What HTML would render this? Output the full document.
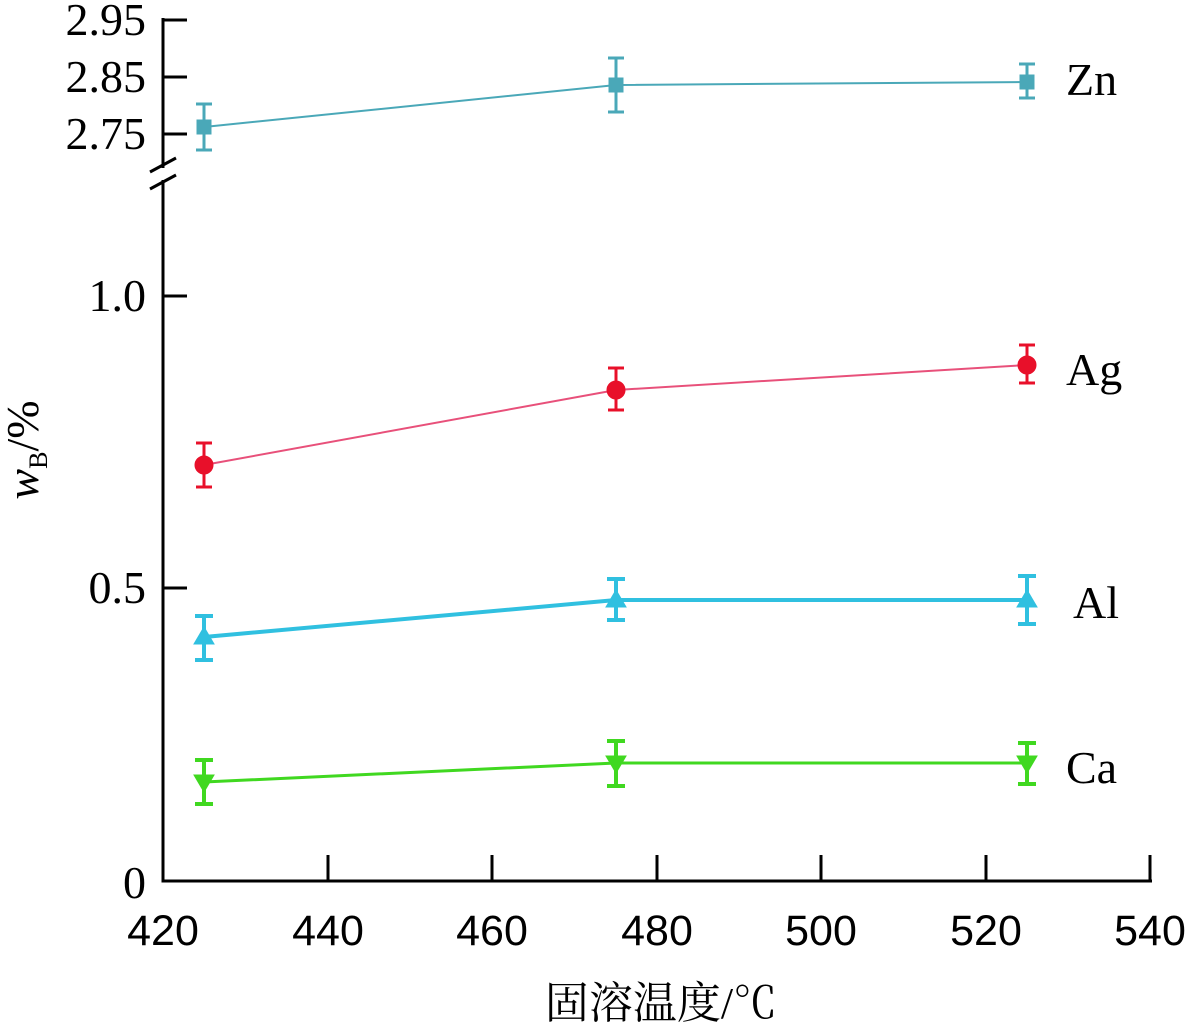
<!DOCTYPE html>
<html><head><meta charset="utf-8"><style>
html,body{margin:0;padding:0;background:#fff;}
svg{display:block;}
</style></head><body>
<svg width="1185" height="1026" xmlns="http://www.w3.org/2000/svg">
<g stroke="#000" stroke-width="3" fill="none">
  <line x1="163" y1="18" x2="163" y2="168"/>
  <line x1="163" y1="180" x2="163" y2="882"/>
  <line x1="150" y1="172" x2="176" y2="158"/>
  <line x1="150" y1="189" x2="176" y2="175"/>
  <line x1="161.5" y1="881" x2="1152" y2="881"/>
  <line x1="163" y1="20" x2="187" y2="20"/>
  <line x1="163" y1="77" x2="187" y2="77"/>
  <line x1="163" y1="134" x2="187" y2="134"/>
  <line x1="163" y1="296" x2="187" y2="296"/>
  <line x1="163" y1="588" x2="187" y2="588"/>
  <line x1="328" y1="855" x2="328" y2="881"/>
  <line x1="492" y1="855" x2="492" y2="881"/>
  <line x1="657" y1="855" x2="657" y2="881"/>
  <line x1="821" y1="855" x2="821" y2="881"/>
  <line x1="986" y1="855" x2="986" y2="881"/>
  <line x1="1150" y1="855" x2="1150" y2="881"/>
</g>
<g font-family="Liberation Serif, serif" font-size="46" text-anchor="end" fill="#000">
  <text x="146" y="35">2.95</text>
  <text x="146" y="92">2.85</text>
  <text x="146" y="149">2.75</text>
  <text x="146" y="311">1.0</text>
  <text x="146" y="603">0.5</text>
  <text x="146" y="898">0</text>
</g>
<g font-family="Liberation Sans, sans-serif" font-size="43" text-anchor="middle" fill="#000">
  <text x="163" y="945">420</text>
  <text x="328" y="945">440</text>
  <text x="492" y="945">460</text>
  <text x="657" y="945">480</text>
  <text x="821" y="945">500</text>
  <text x="986" y="945">520</text>
  <text x="1150" y="945">540</text>
</g>
<text x="661" y="1018" font-family="Liberation Serif, 'Noto Serif CJK SC', serif" font-size="44" text-anchor="middle">固溶温度/℃</text>
<text transform="translate(38,450) rotate(-90)" font-family="Liberation Serif, serif" font-size="46" text-anchor="middle"><tspan font-style="italic">w</tspan><tspan font-size="26" dy="9">B</tspan><tspan dy="-9">/%</tspan></text>
<g font-family="Liberation Serif, serif" font-size="46" fill="#000">
  <text x="1066" y="95">Zn</text>
  <text x="1066" y="385">Ag</text>
  <text x="1073" y="618">Al</text>
  <text x="1066" y="783">Ca</text>
</g>
<!-- Zn -->
<g stroke="#4aa8b8" fill="#4aa8b8">
  <polyline points="204,127 616,85 1027,82" fill="none" stroke-width="2"/>
  <g stroke-width="3">
    <line x1="204" y1="104" x2="204" y2="150"/><line x1="196" y1="104" x2="212" y2="104"/><line x1="196" y1="150" x2="212" y2="150"/>
    <line x1="616" y1="58" x2="616" y2="112"/><line x1="608" y1="58" x2="624" y2="58"/><line x1="608" y1="112" x2="624" y2="112"/>
    <line x1="1027" y1="64" x2="1027" y2="98"/><line x1="1019" y1="64" x2="1035" y2="64"/><line x1="1019" y1="98" x2="1035" y2="98"/>
  </g>
  <rect x="197" y="120" width="14" height="14"/><rect x="609" y="78" width="14" height="14"/><rect x="1020" y="75" width="14" height="14"/>
</g>
<!-- Ag -->
<polyline points="204,465 616,390 1027,365" fill="none" stroke="#e8507a" stroke-width="2"/>
<g stroke="#e8102a" fill="#e8102a" stroke-width="3">
  <line x1="204" y1="443" x2="204" y2="487"/><line x1="196" y1="443" x2="212" y2="443"/><line x1="196" y1="487" x2="212" y2="487"/>
  <line x1="616" y1="368" x2="616" y2="410"/><line x1="608" y1="368" x2="624" y2="368"/><line x1="608" y1="410" x2="624" y2="410"/>
  <line x1="1027" y1="345" x2="1027" y2="383"/><line x1="1019" y1="345" x2="1035" y2="345"/><line x1="1019" y1="383" x2="1035" y2="383"/>
  <circle cx="204" cy="465" r="8"/><circle cx="616" cy="390" r="8"/><circle cx="1027" cy="365" r="8"/>
</g>
<!-- Al -->
<g stroke="#30c0e0" fill="#30c0e0">
  <polyline points="204,637 616,600 1027,600" fill="none" stroke-width="4"/>
  <g stroke-width="4">
    <line x1="204" y1="616" x2="204" y2="660"/><line x1="195" y1="616" x2="213" y2="616"/><line x1="195" y1="660" x2="213" y2="660"/>
    <line x1="616" y1="579" x2="616" y2="620"/><line x1="607" y1="579" x2="625" y2="579"/><line x1="607" y1="620" x2="625" y2="620"/>
    <line x1="1027" y1="576" x2="1027" y2="624"/><line x1="1018" y1="576" x2="1036" y2="576"/><line x1="1018" y1="624" x2="1036" y2="624"/>
  </g>
  <polygon points="204,627 214,644 194,644"/><polygon points="616,590 626,607 606,607"/><polygon points="1027,590 1037,607 1017,607"/>
</g>
<!-- Ca -->
<g stroke="#40d820" fill="#40d820">
  <polyline points="204,782 616,763 1027,763" fill="none" stroke-width="3"/>
  <g stroke-width="4">
    <line x1="204" y1="760" x2="204" y2="804"/><line x1="195" y1="760" x2="213" y2="760"/><line x1="195" y1="804" x2="213" y2="804"/>
    <line x1="616" y1="741" x2="616" y2="786"/><line x1="607" y1="741" x2="625" y2="741"/><line x1="607" y1="786" x2="625" y2="786"/>
    <line x1="1027" y1="743" x2="1027" y2="784"/><line x1="1018" y1="743" x2="1036" y2="743"/><line x1="1018" y1="784" x2="1036" y2="784"/>
  </g>
  <polygon points="204,792 214,775 194,775"/><polygon points="616,773 626,756 606,756"/><polygon points="1027,773 1037,756 1017,756"/>
</g>
</svg>
</body></html>
